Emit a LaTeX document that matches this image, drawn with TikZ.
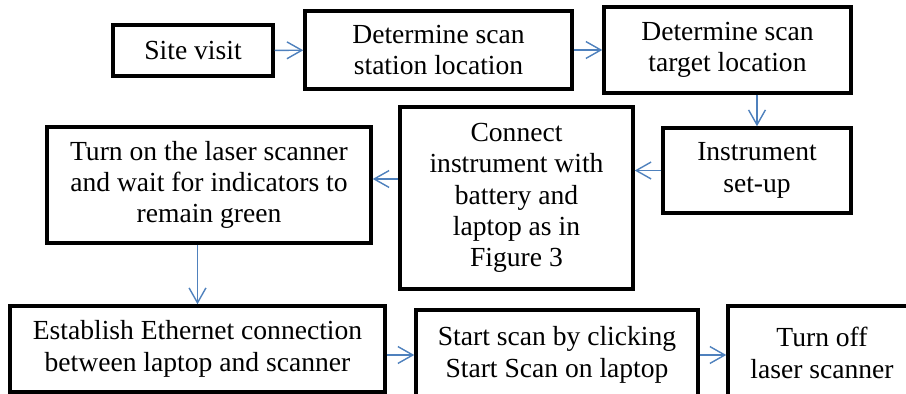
\documentclass[tikz,border=0pt]{standalone}
\usepackage{fontspec}
\setmainfont{Liberation Serif}
\usetikzlibrary{shapes,arrows.meta}
\definecolor{arrowblue}{RGB}{79,129,189}
\tikzstyle{block} = [rectangle, draw, line width=2pt, align=center,
    inner sep=2pt, font=\fontsize{15.7}{17.8}\selectfont]
\tikzstyle{line} = [draw, arrowblue, line width=0.8pt, -{Straight Barb[length=8.5pt,width=9.6pt]}]

\begin{document}
\begin{tikzpicture}[x=0.02cm, y=-0.02cm]

		\path [use as bounding box, clip] (0,0) rectangle (906,394);

		\node [block, minimum width=3.2cm, minimum height=1.02cm] (site) at (193,50.5) {Site visit};
		\node [block, minimum width=5.34cm, minimum height=1.56cm] (station) at (438.5,50) {Determine scan\\station location};
		\node [block, minimum width=4.94cm, minimum height=1.72cm] (target) at (727.5,50) {Determine scan\\target location};
		\node [block, minimum width=3.76cm, minimum height=1.7cm] (instrument) at (757,170.5) {Instrument\\set-up};
		\node [block, minimum width=4.66cm, minimum height=3.64cm] (connect) at (516.5,198) {Connect\\instrument with\\battery and\\laptop as in\\Figure 3};
		\node [block, minimum width=6.48cm, minimum height=2.32cm] (turnon) at (209,185) {Turn on the laser scanner\\and wait for indicators to\\remain green};
		\node [block, minimum width=7.5cm, minimum height=1.72cm] (establish) at (197.5,349) {Establish Ethernet connection\\between laptop and scanner};
		\node [block, minimum width=5.64cm, minimum height=1.8cm] (startscan) at (557,355) {Start scan by clicking\\Start Scan on laptop};
		\node [block, minimum width=3.76cm, minimum height=1.88cm] (turnoff) at (822,353) {Turn off\\laser scanner};

		\path [line] (site) -- (station);
		\path [line] (station) -- (target);
		\path [line] (target.south -| instrument) -- (instrument);
		\path [line] (instrument) -- (instrument -| connect.east);
		\path [line] ([yshift=0.12cm]turnon.east -| connect.west) -- ([yshift=0.12cm]turnon.east);
		\path [line] (turnon.south -| establish) -- (establish);
		\path [line] (startscan -| establish.east) -- (startscan);
		\path [line] (startscan) -- (startscan -| turnoff.west);
	\end{tikzpicture}
\end{document}
